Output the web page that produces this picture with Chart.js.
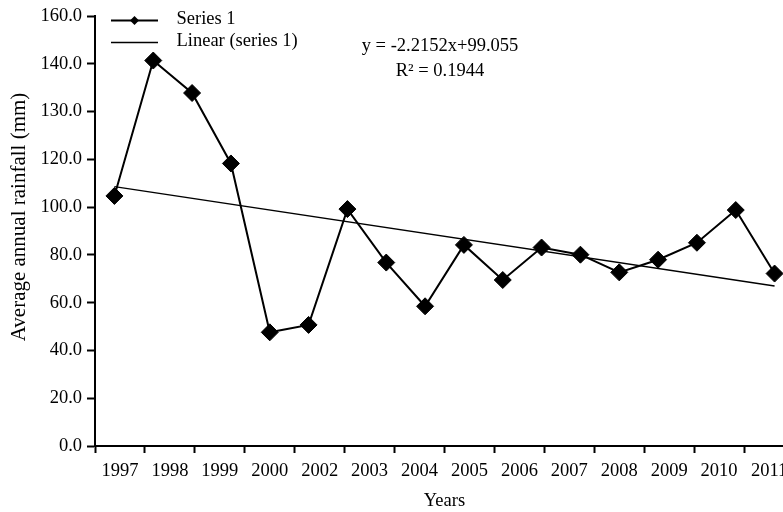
<!DOCTYPE html>
<html>
<head>
<meta charset="utf-8">
<script src="https://cdn.jsdelivr.net/npm/chart.js@4/dist/chart.umd.min.js"></script>
<style>
  html, body { margin: 0; padding: 0; background: #fff; overflow: hidden; width: 783px; height: 512px; }
  #wrap { position: absolute; left: 0; top: 0; width: 822px; height: 512px; }
</style>
</head>
<body>
<div id="wrap"><canvas id="c"></canvas></div>
<script>
// ---- data ----
const yearLabels = ["1997","1998","1999","2000","2002","2003","2004","2005","2006","2007","2008","2009","2010","2011"];
const pointIds = ["1","2","3","4","5","6","7","8","9","10","11","12","13","14","15","16","17","18"];
const rainfall = [104.7, 161.4, 147.8, 118.3, 47.6, 50.7, 99.2, 76.8, 58.5, 84.2, 69.5, 83.1, 80.1, 72.7, 78.0, 85.1, 98.8, 72.2];
const trendStart = 108.6;
const trendEnd = 67.0;
const yTickLabels = ["0.0","20.0","40.0","60.0","80.0","100.0","120.0","130.0","140.0","160.0"];
const equationText = "y = -2.2152x+99.055";
const r2Text = "R² = 0.1944";
const yTitle = "Average annual rainfall (mm)";

const trend = pointIds.map((_, i) => i === 0 ? trendStart : (i === pointIds.length - 1 ? trendEnd : null));

const FONT = "'Liberation Serif', 'Times New Roman', serif";
const FS = 18.5;

const annot = {
  id: 'annot',
  afterDraw(chart) {
    const ctx = chart.ctx;
    ctx.save();
    ctx.fillStyle = '#000';
    ctx.strokeStyle = '#000';
    ctx.font = FS + "px " + FONT;
    ctx.textBaseline = 'middle';
    // legend
    const lx1 = 111, lx2 = 158, ly1 = 20.5, ly2 = 42.5;
    ctx.lineWidth = 2;
    ctx.beginPath(); ctx.moveTo(lx1, ly1); ctx.lineTo(lx2, ly1); ctx.stroke();
    const mx = (lx1 + lx2) / 2, r = 4.5;
    ctx.beginPath(); ctx.moveTo(mx - r, ly1); ctx.lineTo(mx, ly1 - r); ctx.lineTo(mx + r, ly1); ctx.lineTo(mx, ly1 + r); ctx.closePath(); ctx.fill();
    ctx.lineWidth = 1.5;
    ctx.beginPath(); ctx.moveTo(lx1, ly2); ctx.lineTo(lx2, ly2); ctx.stroke();
    ctx.textAlign = 'left';
    ctx.fillText("Series 1", 176.5, ly1 - 1);
    ctx.fillText("Linear (series 1)", 176.5, ly2 - 1);
    // equation
    ctx.textAlign = 'center';
    ctx.fillText(equationText, 440, 46);
    ctx.fillText(r2Text, 440, 71);
    // y axis title
    ctx.translate(19, 217);
    ctx.rotate(-Math.PI / 2);
    ctx.font = "21px " + FONT;
    ctx.fillText(yTitle, 0, 0);
    ctx.restore();
  }
};

new Chart(document.getElementById('c'), {
  type: 'line',
  data: {
    labels: pointIds,
    datasets: [
      {
        label: 'Series 1',
        data: rainfall,
        xAxisID: 'xd',
        yAxisID: 'y',
        borderColor: '#000',
        backgroundColor: '#000',
        borderWidth: 2,
        pointStyle: 'rectRot',
        pointRadius: 8.5,
        pointBorderWidth: 1,
        pointBackgroundColor: '#000',
        pointBorderColor: '#000',
        tension: 0
      },
      {
        label: 'Linear (series 1)',
        data: trend,
        xAxisID: 'xd',
        yAxisID: 'y',
        borderColor: '#000',
        borderWidth: 1.5,
        pointRadius: 0,
        spanGaps: true,
        tension: 0
      }
    ]
  },
  options: {
    responsive: true,
    maintainAspectRatio: false,
    animation: false,
    events: [],
    layout: { padding: { top: 15, right: 28, bottom: 0, left: 0 } },
    plugins: { legend: { display: false }, tooltip: { enabled: false } },
    scales: {
      xd: {
        type: 'category',
        labels: pointIds,
        offset: true,
        display: false
      },
      x: {
        type: 'category',
        labels: yearLabels,
        offset: true,
        position: 'bottom',
        grid: { offset: true, drawOnChartArea: false, color: '#000', tickLength: 7, tickWidth: 2 },
        border: { display: true, color: '#000', width: 2 },
        ticks: { color: '#000', font: { family: FONT, size: FS }, padding: 7, maxRotation: 0, autoSkip: false },
        title: { display: true, text: 'Years', color: '#000', font: { family: FONT, size: FS }, padding: { top: 4, bottom: 0 } },
        afterFit(s) { s.height = 66; }
      },
      y: {
        type: 'linear',
        min: 0,
        max: 180,
        position: 'left',
        grid: { drawOnChartArea: false, color: '#000', tickLength: 8, tickWidth: 2 },
        border: { display: true, color: '#000', width: 2 },
        ticks: {
          stepSize: 20,
          color: '#000',
          font: { family: FONT, size: FS },
          padding: 5,
          callback: (v, i) => yTickLabels[i]
        },
        afterFit(s) { s.width = 95; }
      }
    }
  },
  plugins: [annot]
});
</script>
</body>
</html>
